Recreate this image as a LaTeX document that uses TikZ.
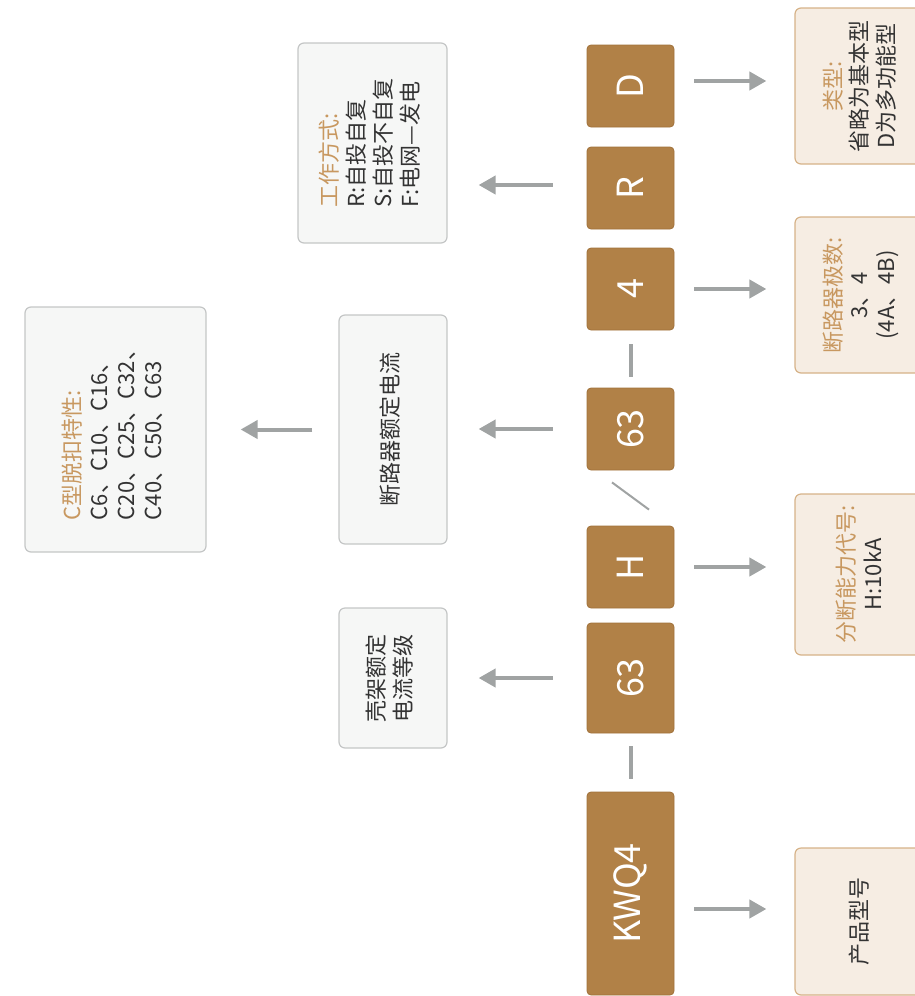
\documentclass[tikz,border=0pt]{standalone}
\usepackage{fontspec}
\setmainfont{Noto Sans CJK SC}
\usepackage{graphicx}
\usepackage{tikz}
\usetikzlibrary{arrows.meta, positioning}
\definecolor{codebrown}{RGB}{177,129,71}
\definecolor{codeline}{RGB}{160,113,58}
\definecolor{greyfill}{RGB}{246,247,246}
\definecolor{greyline}{RGB}{196,198,198}
\definecolor{sidebeige}{RGB}{246,237,227}
\definecolor{sideline}{RGB}{214,178,136}
\definecolor{arrowgrey}{RGB}{160,163,163}
\definecolor{titletan}{RGB}{200,152,96}
\definecolor{textdark}{RGB}{51,51,51}
\newcommand{\vlines}[2][c]{\rotatebox{90}{\begin{tabular}{@{}#1@{}}#2\end{tabular}}}
\tikzstyle{code} = [rectangle, rounded corners=2pt, minimum width=43.5pt, fill=codebrown, draw=codeline, line width=0.4pt, text=white, font=\fontsize{18pt}{20pt}\selectfont, inner sep=0pt]
\tikzstyle{note} = [rectangle, rounded corners=3pt, fill=greyfill, draw=greyline, line width=0.6pt, text=textdark, font=\fontsize{11pt}{13.4pt}\selectfont, inner sep=0pt]
\tikzstyle{info} = [note, fill=sidebeige, draw=sideline, minimum width=67.5pt]
\tikzstyle{arrow} = [line width=2pt, draw=arrowgrey, -{Triangle[length=8.5pt,width=9pt]}]
\tikzstyle{outR} = [arrow, shorten <=10pt, shorten >=14pt]
\tikzstyle{outL} = [arrow, shorten <=17pt, shorten >=15.5pt]
\tikzstyle{joint} = [line width=2pt, draw=arrowgrey]
\begin{document}
\begin{tikzpicture}[x=0.5pt, y=-0.5pt]
    \path[use as bounding box] (0,0) rectangle (915,996);
    \clip (0,0) rectangle (915,996);

    \node[code, minimum height=41pt] (d) at (630.5,86) {\rotatebox{90}{D}};
    \node[code, minimum height=41pt] (r) at (630.5,188) {\rotatebox{90}{R}};
    \node[code, minimum height=41pt] (four) at (630.5,289) {\rotatebox{90}{4}};
    \node[code, minimum height=41pt] (rated) at (630.5,429) {\rotatebox{90}{63}};
    \node[code, minimum height=41pt] (h) at (630.5,567) {\rotatebox{90}{H}};
    \node[code, minimum height=55pt] (frame) at (630.5,678) {\rotatebox{90}{63}};
    \node[code, minimum height=101.5pt] (kwq) at (630.5,893.5) {\rotatebox{90}{KWQ4}};

    \node[info, minimum height=78pt] (typ) at (862.5,86) {\vlines{\textcolor{titletan}{类型:}\\省略为基本型\\D为多功能型}};
    \node[info, minimum height=78pt] (polecount) at (862.5,295) {\vlines{\textcolor{titletan}{断路器极数:}\\3、4\\(4A、4B)}};
    \node[info, minimum height=80.5pt] (breaking) at (862.5,574.5) {\vlines{\textcolor{titletan}{分断能力代号:}\\H:10kA}};
    \node[info, minimum height=73.5pt] (product) at (862.5,921.5) {\vlines{产品型号}};

    \node[note, minimum width=74.5pt, minimum height=100pt] (mode) at (372.5,143) {\vlines[l]{\textcolor{titletan}{工作方式:}\\R:自投自复\\S:自投不自复\\F:电网—发电}};
    \node[note, minimum width=54pt, minimum height=114.5pt] (current) at (393,429.5) {\vlines{断路器额定电流}};
    \node[note, minimum width=54pt, minimum height=70pt] (shell) at (393,678) {\vlines{壳架额定\\电流等级}};
    \node[note, minimum width=90.5pt, minimum height=122.5pt] (trip) at (115.5,429.5) {\vlines[l]{\textcolor{titletan}{C型脱扣特性:}\\C6、C10、C16、\\C20、C25、C32、\\C40、C50、C63}};

    \draw[outR] ([yshift=2.5pt]d.east) -- ([yshift=2.5pt]d.east -| typ.west);
    \draw[outR] (four.east) -- (four.east -| polecount.west);
    \draw[outR] (h.east) -- (h.east -| breaking.west);
    \draw[outR] ([yshift=-7.75pt]kwq.east) -- ([yshift=6.25pt]product.west);

    \draw[outL] ([yshift=1.5pt]r.west) -- ([yshift=1.5pt]r.west -| mode.east);
    \draw[outL] (rated.west) -- (rated.west -| current.east);
    \draw[outL] (frame.west) -- (shell.east);
    \draw[arrow, shorten <=13pt, shorten >=17pt] (current.west) -- (current.west -| trip.east);

    \draw[joint, shorten <=7pt, shorten >=5.5pt] (four.south) -- (rated.north);
    \draw[joint, shorten <=6.5pt, shorten >=6.5pt] (frame.south) -- (kwq.north);
    \draw[arrowgrey, line width=1pt] ([xshift=-9.25pt,yshift=-6pt]rated.south) -- ([xshift=9.25pt,yshift=8pt]h.north);
\end{tikzpicture}
\end{document}
